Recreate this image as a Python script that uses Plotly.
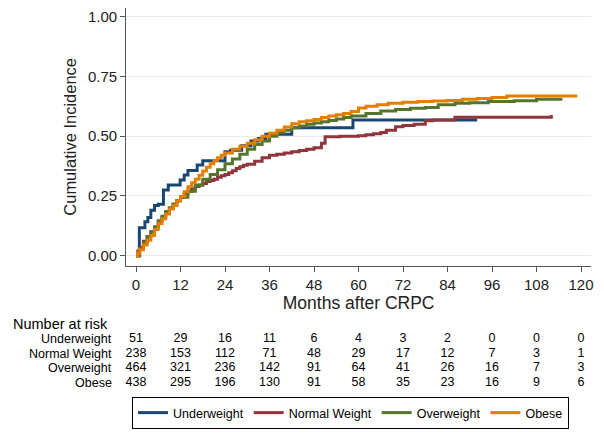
import plotly.graph_objects as go

# ---- data ----
months_ticks = [0, 12, 24, 36, 48, 60, 72, 84, 96, 108, 120]
groups = ["Underweight", "Normal Weight", "Overweight", "Obese"]
colors = ["#1a476f", "#90353b", "#55752f", "#e37e00"]

uw_t = [0, 0.9, 2.4, 3.2, 4.0, 5.0, 6.0, 7.4, 8.7, 11.9, 13.0, 14.0, 16.5, 18.0, 24.0, 25.5, 28.5, 31.0, 33.0, 35.0, 42.0, 58.5, 92.0]
uw_ci = [0, 0.117, 0.142, 0.16, 0.19, 0.21, 0.215, 0.275, 0.296, 0.317, 0.338, 0.356, 0.38, 0.397, 0.435, 0.441, 0.46, 0.48, 0.49, 0.508, 0.535, 0.568, 0.568]

nw_t = [0, 0.5, 1, 2, 3, 4, 5, 6, 7, 8, 9, 10, 11, 12, 13, 14, 15, 16, 17, 18, 19, 20, 21, 22, 23, 24, 25, 26, 27, 28, 29, 30, 32, 34, 36, 38, 40, 42, 44, 46, 48, 50, 51, 55, 60, 62, 64, 66, 67.5, 70, 72, 75, 78, 80, 86, 112]
nw_ci = [0, 0.02, 0.035, 0.06, 0.08, 0.1, 0.12, 0.145, 0.16, 0.18, 0.2, 0.215, 0.23, 0.245, 0.26, 0.27, 0.28, 0.29, 0.296, 0.302, 0.31, 0.315, 0.32, 0.328, 0.334, 0.34, 0.347, 0.355, 0.365, 0.372, 0.378, 0.383, 0.395, 0.41, 0.42, 0.425, 0.43, 0.435, 0.44, 0.445, 0.452, 0.47, 0.498, 0.5, 0.502, 0.506, 0.51, 0.515, 0.525, 0.54, 0.545, 0.55, 0.565, 0.568, 0.579, 0.589]

ow_t = [0, 1, 2, 3, 4, 5, 6, 7, 8, 9, 10, 11, 12, 14, 16, 18, 20, 22, 24, 26, 28, 30, 32, 34, 36, 38, 40, 42, 44, 46, 48, 50, 52, 54, 56, 58, 62, 66, 70, 74, 78, 81.5, 86, 90, 95, 102, 108, 115]
ow_ci = [0, 0.03, 0.055, 0.08, 0.1, 0.12, 0.145, 0.165, 0.185, 0.2, 0.215, 0.23, 0.245, 0.27, 0.295, 0.32, 0.34, 0.36, 0.385, 0.405, 0.425, 0.445, 0.465, 0.48, 0.5, 0.515, 0.525, 0.535, 0.543, 0.55, 0.555, 0.56, 0.566, 0.572, 0.578, 0.585, 0.595, 0.605, 0.612, 0.617, 0.62, 0.632, 0.638, 0.64, 0.645, 0.648, 0.655, 0.655]

ob_t = [0, 0.5, 1, 2, 3, 4, 5, 6, 7, 8, 9, 10, 11, 12, 13, 14, 15, 16, 17, 18, 19, 20, 21, 22, 23, 24, 26, 28, 30, 32, 34, 36, 38, 40, 42, 44, 46, 48, 50, 52, 54, 56, 58, 60, 62, 65, 68, 72, 76, 80, 84, 88, 92, 96, 100, 104, 110, 119]
ob_ci = [0, 0.01, 0.025, 0.045, 0.065, 0.085, 0.11, 0.135, 0.155, 0.175, 0.195, 0.21, 0.23, 0.248, 0.268, 0.288, 0.305, 0.32, 0.337, 0.354, 0.37, 0.385, 0.398, 0.41, 0.42, 0.43, 0.445, 0.458, 0.47, 0.485, 0.5, 0.512, 0.525, 0.538, 0.552, 0.56, 0.565, 0.57, 0.578, 0.585, 0.59, 0.595, 0.603, 0.618, 0.625, 0.632, 0.638, 0.642, 0.645, 0.647, 0.649, 0.655, 0.658, 0.662, 0.668, 0.668, 0.668, 0.668]

risk_uw = [51, 29, 16, 11, 6, 4, 3, 2, 0, 0, 0]
risk_nw = [238, 153, 112, 71, 48, 29, 17, 12, 7, 3, 1]
risk_ow = [464, 321, 236, 142, 91, 64, 41, 26, 16, 7, 3]
risk_ob = [438, 295, 196, 130, 91, 58, 35, 23, 16, 9, 6]

series_t = [uw_t, nw_t, ow_t, ob_t]
series_ci = [uw_ci, nw_ci, ow_ci, ob_ci]
risk_rows = [risk_uw, risk_nw, risk_ow, risk_ob]

FONT = "Liberation Sans, Arial, sans-serif"
W, H = 604, 434
OFF = 8  # page body margin


def px(x):
    return min(1.0, max(0.0, (x - OFF) / W))


def py(y):
    return min(1.0, max(0.0, 1 - (y - OFF) / H))


# axis geometry in reference pixels
X0, XS = 136.0, 445.0 / 120.0        # month 0 at 136 px, 3.708 px per month
x_left_px, x_right_px = 126.3, 591.0
Y0, YS = 255.7, 239.0                # ci 0 at 255.7 px, 239 px per unit
y_bot_px, y_top_px = 265.7, 8.0
x_range = [(x_left_px - X0) / XS, (x_right_px - X0) / XS]
y_range = [(Y0 - y_bot_px) / YS, (Y0 - y_top_px) / YS]

fig = go.Figure()
for name, col, t, ci in zip(groups, colors, series_t, series_ci):
    fig.add_trace(go.Scatter(x=t, y=ci, mode="lines", name=name,
                             line=dict(color=col, width=3, shape="hv"),
                             xaxis="x", yaxis="y"))

# risk table numbers, aligned with the month axis
for i, row in enumerate(risk_rows):
    fig.add_trace(go.Scatter(x=months_ticks, y=[i] * len(row), mode="text",
                             text=[str(v) for v in row], textposition="middle center",
                             textfont=dict(family=FONT, size=12.5, color="#000"),
                             showlegend=False, hoverinfo="skip",
                             xaxis="x2", yaxis="y2", cliponaxis=False))

row_y = [339.3, 353.5, 368.3, 382.7]
annotations = []
for g, yy in zip(groups, row_y):
    annotations.append(dict(x=px(113.5), y=py(yy), xref="paper", yref="paper", text=g, showarrow=False,
                            xanchor="right", yanchor="middle",
                            font=dict(family=FONT, size=12.5, color="#000")))
annotations.append(dict(x=px(11), y=py(323.5), xref="paper", yref="paper", text="Number at risk",
                        showarrow=False, xanchor="left", yanchor="middle",
                        font=dict(family=FONT, size=14.5, color="#000")))

fig.update_layout(
    width=W, height=H,
    margin=dict(l=0, r=0, t=0, b=0),
    paper_bgcolor="white", plot_bgcolor="white",
    font=dict(family=FONT, color="#222"),
    annotations=annotations,
    xaxis=dict(domain=[px(x_left_px), px(x_right_px)], range=x_range,
               tickvals=months_ticks, ticks="outside", ticklen=5, tickcolor="#555",
               showline=True, linecolor="#555", linewidth=1.2, showgrid=False, zeroline=False,
               tickfont=dict(family=FONT, size=15, color="#222"),
               title=dict(text="Months after CRPC", font=dict(family=FONT, size=17.5, color="#222"), standoff=0),
               automargin=False, anchor="y", ticklabeloverflow="allow"),
    yaxis=dict(domain=[py(y_bot_px), py(y_top_px)], range=y_range,
               tickvals=[0, 0.25, 0.5, 0.75, 1.0], ticktext=["0.00", "0.25", "0.50", "0.75", "1.00"],
               ticks="outside", ticklen=5, tickcolor="#555",
               showline=True, linecolor="#555", linewidth=1.2,
               showgrid=True, gridcolor="#eaeaea", gridwidth=1, zeroline=False,
               tickfont=dict(family=FONT, size=15, color="#222"),
               title=dict(text="Cumulative Incidence", font=dict(family=FONT, size=16.5, color="#222"), standoff=7),
               automargin=False, anchor="x", ticklabeloverflow="allow"),
    xaxis2=dict(domain=[px(x_left_px), px(x_right_px)], range=x_range, visible=False, anchor="y2"),
    yaxis2=dict(domain=[py(row_y[3]), py(row_y[0])], range=[3, 0], visible=False, anchor="x2"),
    legend=dict(orientation="h", x=px(132), y=py(397), xanchor="left", yanchor="top",
                bordercolor="#000", borderwidth=1, bgcolor="white",
                font=dict(family=FONT, size=12.5, color="#000"), traceorder="normal"),
    showlegend=True,
)

fig.write_html("out.html")
